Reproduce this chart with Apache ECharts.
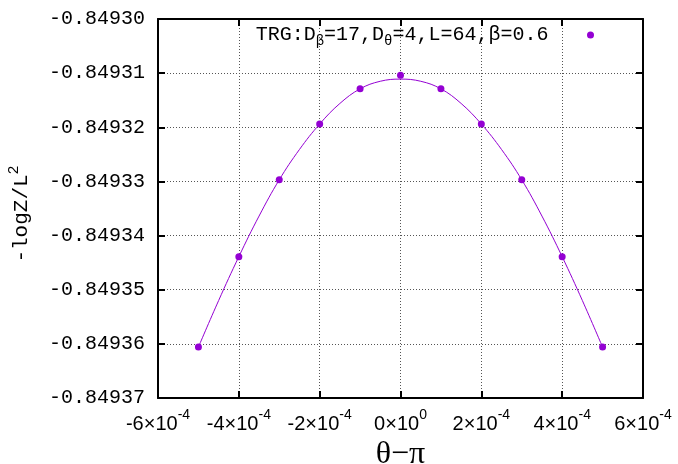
<!DOCTYPE html>
<html>
<head>
<meta charset="utf-8">
<script src="https://cdn.jsdelivr.net/npm/echarts@6/dist/echarts.min.js"></script>
<style>html,body{margin:0;padding:0;background:#fff}#c{width:678px;height:464px}</style>
</head>
<body>
<div id="c"></div>
<script>
// θ−π values of the data points
const xValues = [-5e-4, -4e-4, -3e-4, -2e-4, -1e-4, 0, 1e-4, 2e-4, 3e-4, 4e-4, 5e-4];
// -logZ/L^2 data points
const dataY = [-0.8493606, -0.8493439, -0.8493297, -0.8493194, -0.8493129, -0.8493104,
               -0.8493129, -0.8493194, -0.8493297, -0.8493439, -0.8493606];
// fitted curve
const fitX = [-5e-4, -4.5e-4, -4e-4, -3.5e-4, -3e-4, -2.5e-4, -2e-4, -1.5e-4, -1e-4, -0.5e-4, 0,
              0.5e-4, 1e-4, 1.5e-4, 2e-4, 2.5e-4, 3e-4, 3.5e-4, 4e-4, 4.5e-4, 5e-4];
const fitY = [-0.8493606, -0.8493520, -0.8493439, -0.8493364, -0.8493297, -0.8493241, -0.8493194,
              -0.8493156, -0.8493129, -0.8493115, -0.8493111,
              -0.8493115, -0.8493129, -0.8493156, -0.8493194, -0.8493241, -0.8493297,
              -0.8493364, -0.8493439, -0.8493520, -0.8493606];
const xTicks = { min: -6e-4, max: 6e-4, interval: 2e-4 };
const yTicks = { min: -0.84937, max: -0.84930, interval: 0.00001 };
const legendLabel = 'TRG:D{s|β}=17,D{s|θ}=4,L=64,β=0.6';
const seriesName = 'TRG';

const COLOR = '#9400D3';
const chart = echarts.init(document.getElementById('c'), null, { renderer: 'canvas' });

function xLabel(v) {
  const m = Math.round(v / 1e-4);
  if (m === 0) return '{m|0×10}{e|0}';
  return '{m|' + m + '×10}{e|-4}';
}

const gridLine = { show: true, lineStyle: { color: '#555', width: 1, type: [1, 2] } };
const axisLine = { show: true, onZero: false, lineStyle: { color: '#000', width: 2 } };
const tick = { show: true, inside: true, length: 7, lineStyle: { color: '#000', width: 2 } };

chart.setOption({
  backgroundColor: '#fff',
  animation: false,
  grid: { left: 158, right: 35, top: 19, bottom: 66, containLabel: false, outerBoundsMode: 'none' },
  legend: {
    data: [seriesName],
    right: 79,
    top: 20,
    align: 'right',
    itemWidth: 74,
    itemHeight: 7,
    formatter: () => legendLabel,
    textStyle: {
      fontFamily: 'Liberation Mono', fontSize: 20, color: '#000',
      rich: { s: { fontFamily: 'Liberation Mono', fontSize: 14, color: '#000', padding: [12, 0, 0, 0] } }
    }
  },
  xAxis: [{
    type: 'value', min: xTicks.min, max: xTicks.max, interval: xTicks.interval,
    position: 'bottom',
    axisLine, axisTick: tick, splitLine: gridLine,
    axisLabel: {
      margin: 10, formatter: xLabel, color: '#000',
      rich: {
        m: { fontFamily: 'Liberation Sans', fontSize: 20, color: '#000' },
        e: { fontFamily: 'Liberation Sans', fontSize: 14, color: '#000', padding: [0, 0, 18, 0] }
      }
    },
    name: 'θ−π', nameLocation: 'middle', nameGap: 37,
    nameTextStyle: { fontFamily: 'Liberation Serif', fontSize: 32, color: '#000' }
  }, {
    type: 'value', min: xTicks.min, max: xTicks.max, interval: xTicks.interval,
    position: 'top', axisLine, axisTick: tick, splitLine: { show: false }, axisLabel: { show: false }
  }],
  yAxis: [{
    type: 'value', min: yTicks.min, max: yTicks.max, interval: yTicks.interval,
    position: 'left',
    axisLine, axisTick: tick, splitLine: gridLine,
    axisLabel: {
      margin: 13, formatter: v => v.toFixed(5), color: '#000',
      fontFamily: 'Liberation Mono', fontSize: 20
    },
    name: '-logZ/L{p|2}', nameLocation: 'middle', nameGap: 122,
    nameTextStyle: {
      fontFamily: 'Liberation Mono', fontSize: 21, color: '#000', padding: [0, 11, 0, 0],
      rich: { p: { fontFamily: 'Liberation Mono', fontSize: 15, color: '#000', padding: [0, 0, 14, 0] } }
    }
  }, {
    type: 'value', min: yTicks.min, max: yTicks.max, interval: yTicks.interval,
    position: 'right', axisLine, axisTick: tick, splitLine: { show: false }, axisLabel: { show: false }
  }],
  series: [{
    name: 'fit', type: 'line', smooth: 0.4, showSymbol: false, symbol: 'none',
    data: fitX.map((x, i) => [x, fitY[i]]),
    lineStyle: { color: COLOR, width: 1 }, itemStyle: { color: COLOR },
    silent: true, z: 2
  }, {
    name: seriesName, type: 'scatter', symbol: 'circle', symbolSize: 7,
    data: xValues.map((x, i) => [x, dataY[i]]),
    itemStyle: { color: COLOR, opacity: 1 }, z: 3
  }]
});
</script>
</body>
</html>
